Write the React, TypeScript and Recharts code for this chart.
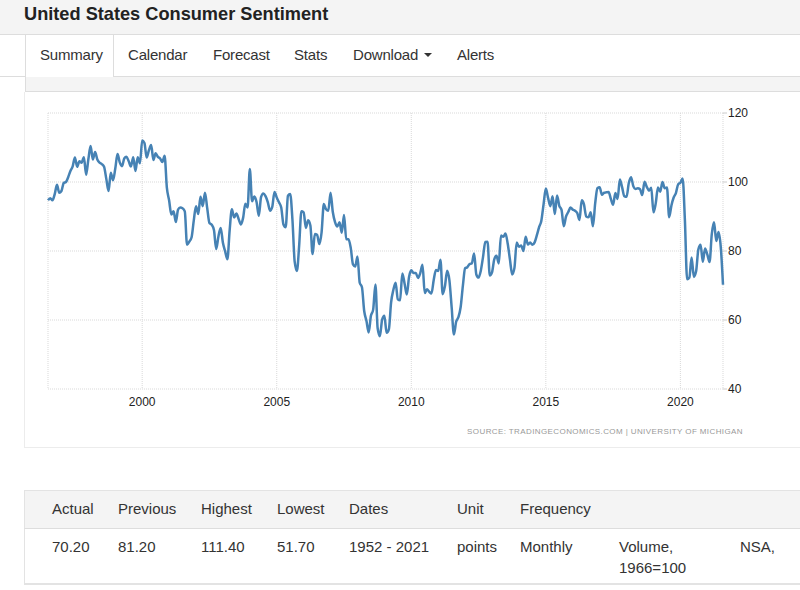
import { LineChart, Line, XAxis, YAxis, CartesianGrid } from 'recharts';

// monthly readings, Jul 1996 .. Aug 2021
const firstYear = 1996;
const firstMonth = 7;
const sentiment = [
  94.7, 95.3, 94.7, 96.5, 99.2, 96.9,
  97.4, 99.7, 100.0, 101.4, 103.2, 104.5, 107.1, 104.4, 106.0, 105.6, 107.2, 102.1,
  106.6, 110.4, 106.5, 108.7, 106.5, 105.6, 105.2, 104.4, 100.9, 97.4, 102.7, 100.5,
  103.9, 108.1, 105.7, 104.6, 106.8, 107.3, 106.0, 104.5, 107.2, 103.2, 107.2, 105.4,
  112.0, 111.3, 107.1, 109.2, 110.7, 106.4, 108.3, 107.3, 106.8, 105.8, 107.6, 98.4,
  94.7, 90.6, 91.5, 88.4, 92.0, 92.6, 92.4, 91.5, 81.8, 82.7, 83.9, 88.8,
  93.0, 90.7, 95.7, 93.0, 96.9, 92.4, 88.1, 87.6, 86.1, 80.6, 84.2, 86.7,
  82.4, 79.9, 77.6, 86.0, 92.1, 89.7, 90.9, 89.3, 87.7, 89.6, 93.7, 92.6,
  103.8, 94.4, 95.8, 94.2, 90.2, 95.6, 96.7, 95.9, 94.2, 91.7, 92.8, 97.1,
  95.5, 94.1, 92.6, 87.7, 86.9, 96.0, 96.5, 89.1, 76.9, 74.2, 81.6, 91.5,
  91.2, 86.7, 88.9, 87.4, 79.1, 84.9, 84.7, 82.0, 85.4, 93.6, 92.1, 91.7,
  96.9, 91.3, 88.4, 87.1, 88.3, 85.3, 90.4, 83.4, 83.4, 80.9, 76.1, 75.5,
  78.4, 70.8, 69.5, 62.6, 59.8, 56.4, 61.2, 63.0, 70.3, 57.6, 55.3, 60.1,
  61.2, 56.3, 57.3, 65.1, 68.7, 70.8, 66.0, 65.7, 73.5, 70.6, 67.4, 72.5,
  74.4, 73.6, 73.6, 72.2, 73.6, 76.0, 67.8, 68.9, 68.2, 67.7, 71.6, 74.5,
  74.2, 77.5, 67.5, 69.8, 74.3, 71.5, 63.7, 55.8, 59.5, 60.8, 63.7, 69.9,
  75.0, 75.3, 76.2, 76.4, 79.3, 73.2, 72.3, 74.3, 78.3, 82.6, 82.7, 72.9,
  73.8, 77.6, 78.6, 76.4, 84.5, 84.1, 85.1, 82.1, 77.5, 73.2, 75.1, 82.5,
  81.2, 81.6, 80.0, 84.1, 81.9, 82.5, 81.8, 82.5, 84.6, 86.9, 88.8, 93.6,
  98.1, 95.4, 93.0, 95.9, 90.7, 96.1, 93.1, 91.9, 87.2, 90.0, 91.3, 92.6,
  92.0, 91.7, 91.0, 89.0, 94.7, 93.5, 90.0, 89.8, 91.2, 87.2, 93.8, 98.2,
  98.5, 96.3, 96.9, 97.0, 97.1, 95.1, 93.4, 96.8, 95.1, 100.7, 98.5, 95.9,
  95.7, 99.7, 101.4, 98.8, 98.0, 98.2, 97.9, 96.2, 100.1, 98.6, 97.5, 98.3,
  91.2, 93.8, 98.4, 97.2, 100.0, 98.2, 98.4, 89.8, 93.2, 95.5, 96.8, 99.3,
  99.8, 101.0, 89.1, 71.8, 72.3, 78.1, 72.5, 74.1, 80.4, 81.8, 76.9, 80.7,
  79.0, 76.8, 84.9, 88.3, 82.9, 85.5, 81.2, 70.2,
];

const xTicks = [2000, 2005, 2010, 2015, 2020];
const yTicks = [40, 60, 80, 100, 120];

const tabs = ['Summary', 'Calendar', 'Forecast', 'Stats', 'Download', 'Alerts'];
const tabX = [40, 128, 213, 294, 353, 457];

const headers = ['Actual', 'Previous', 'Highest', 'Lowest', 'Dates', 'Unit', 'Frequency'];
const values = ['70.20', '81.20', '111.40', '51.70', '1952 - 2021', 'points', 'Monthly', 'Volume, 1966=100', 'NSA,'];
const colX = [52, 118, 201, 277, 349, 457, 520, 619, 740];

const data = sentiment.map((v, i) => ({ t: firstYear + (firstMonth - 1 + i) / 12, value: v }));

const font = '"Liberation Sans", Arial, sans-serif';
const border = '#dddddd';

export default function App() {
  return (
    <div style={{ position: 'absolute', left: 0, top: 0, width: 800, height: 590, background: '#fff', fontFamily: font, color: '#333', overflow: 'hidden' }}>
      {/* header */}
      <div style={{ position: 'absolute', left: 0, top: 0, width: 800, height: 34, background: '#f4f4f4', borderBottom: `1px solid ${border}` }} />
      <div style={{ position: 'absolute', left: 24, top: 3, fontSize: 18.2, lineHeight: '22px', fontWeight: 'bold', color: '#222' }}>
        United States Consumer Sentiment
      </div>

      {/* tabs */}
      <div style={{ position: 'absolute', left: 0, top: 76, width: 25, height: 1, background: border }} />
      <div style={{ position: 'absolute', left: 25, top: 35, width: 87, height: 42, borderLeft: `1px solid ${border}`, borderRight: `1px solid ${border}`, background: '#fff' }} />
      {tabs.map((t, i) => (
        <div key={t} style={{ position: 'absolute', left: tabX[i], top: 45, fontSize: 15, lineHeight: '20px', letterSpacing: -0.2, whiteSpace: 'nowrap' }}>
          {t}
        </div>
      ))}
      <div style={{ position: 'absolute', left: 424, top: 53, width: 0, height: 0, borderTop: '4px solid #333', borderLeft: '4px solid transparent', borderRight: '4px solid transparent' }} />

      {/* strip */}
      <div style={{ position: 'absolute', left: 25, top: 77, width: 775, height: 14, background: '#f4f4f4', borderBottom: `1px solid ${border}`, borderLeft: `1px solid ${border}` }} />
      <div style={{ position: 'absolute', left: 113, top: 76, width: 687, height: 1, background: border }} />

      {/* chart panel */}
      <div style={{ position: 'absolute', left: 24, top: 92, width: 776, height: 355, borderLeft: '1px solid #ececec', borderBottom: '1px solid #ececec' }} />
      <div style={{ position: 'absolute', left: 0, top: 92 }}>
        <LineChart width={800} height={356} data={data} margin={{ top: 21, right: 37, bottom: 29, left: 48 }}>
          <CartesianGrid stroke="#d9d9d9" strokeDasharray="1 1" />
          <XAxis
            dataKey="t"
            type="number"
            domain={['dataMin', 'dataMax']}
            ticks={xTicks}
            tickLine={false}
            axisLine={false}
            height={30}
            tick={{ fill: '#222', fontSize: 12, fontFamily: font }}
          />
          <YAxis
            orientation="right"
            domain={[40, 120]}
            ticks={yTicks}
            axisLine={false}
            tickLine={{ stroke: '#ccc' }}
            tickSize={4}
            tickMargin={1}
            width={40}
            tick={{ fill: '#222', fontSize: 12, fontFamily: font }}
          />
          <Line type="monotone" dataKey="value" stroke="#4682b4" strokeWidth={2.5} dot={false} isAnimationActive={false} />
        </LineChart>
      </div>
      <div style={{ position: 'absolute', right: 57, top: 427, fontSize: 8, lineHeight: '10px', letterSpacing: 0.4, color: '#999', whiteSpace: 'nowrap' }}>
        SOURCE: TRADINGECONOMICS.COM | UNIVERSITY OF MICHIGAN
      </div>

      {/* table */}
      <div style={{ position: 'absolute', left: 24, top: 490, width: 776, height: 37, background: '#f4f4f4', borderTop: '1px solid #e3e3e3', borderBottom: `1px solid ${border}`, borderLeft: '1px solid #e3e3e3' }} />
      <div style={{ position: 'absolute', left: 24, top: 529, width: 776, height: 54, borderBottom: '2px solid #e3e3e3', borderLeft: '1px solid #e3e3e3' }} />
      {headers.map((h, i) => (
        <div key={h} style={{ position: 'absolute', left: colX[i], top: 498, fontSize: 15, lineHeight: '21px', whiteSpace: 'nowrap' }}>
          {h}
        </div>
      ))}
      {values.map((v, i) => (
        <div key={i} style={{ position: 'absolute', left: colX[i], top: 536, width: 100, fontSize: 15, lineHeight: '21px' }}>
          {v}
        </div>
      ))}
    </div>
  );
}
